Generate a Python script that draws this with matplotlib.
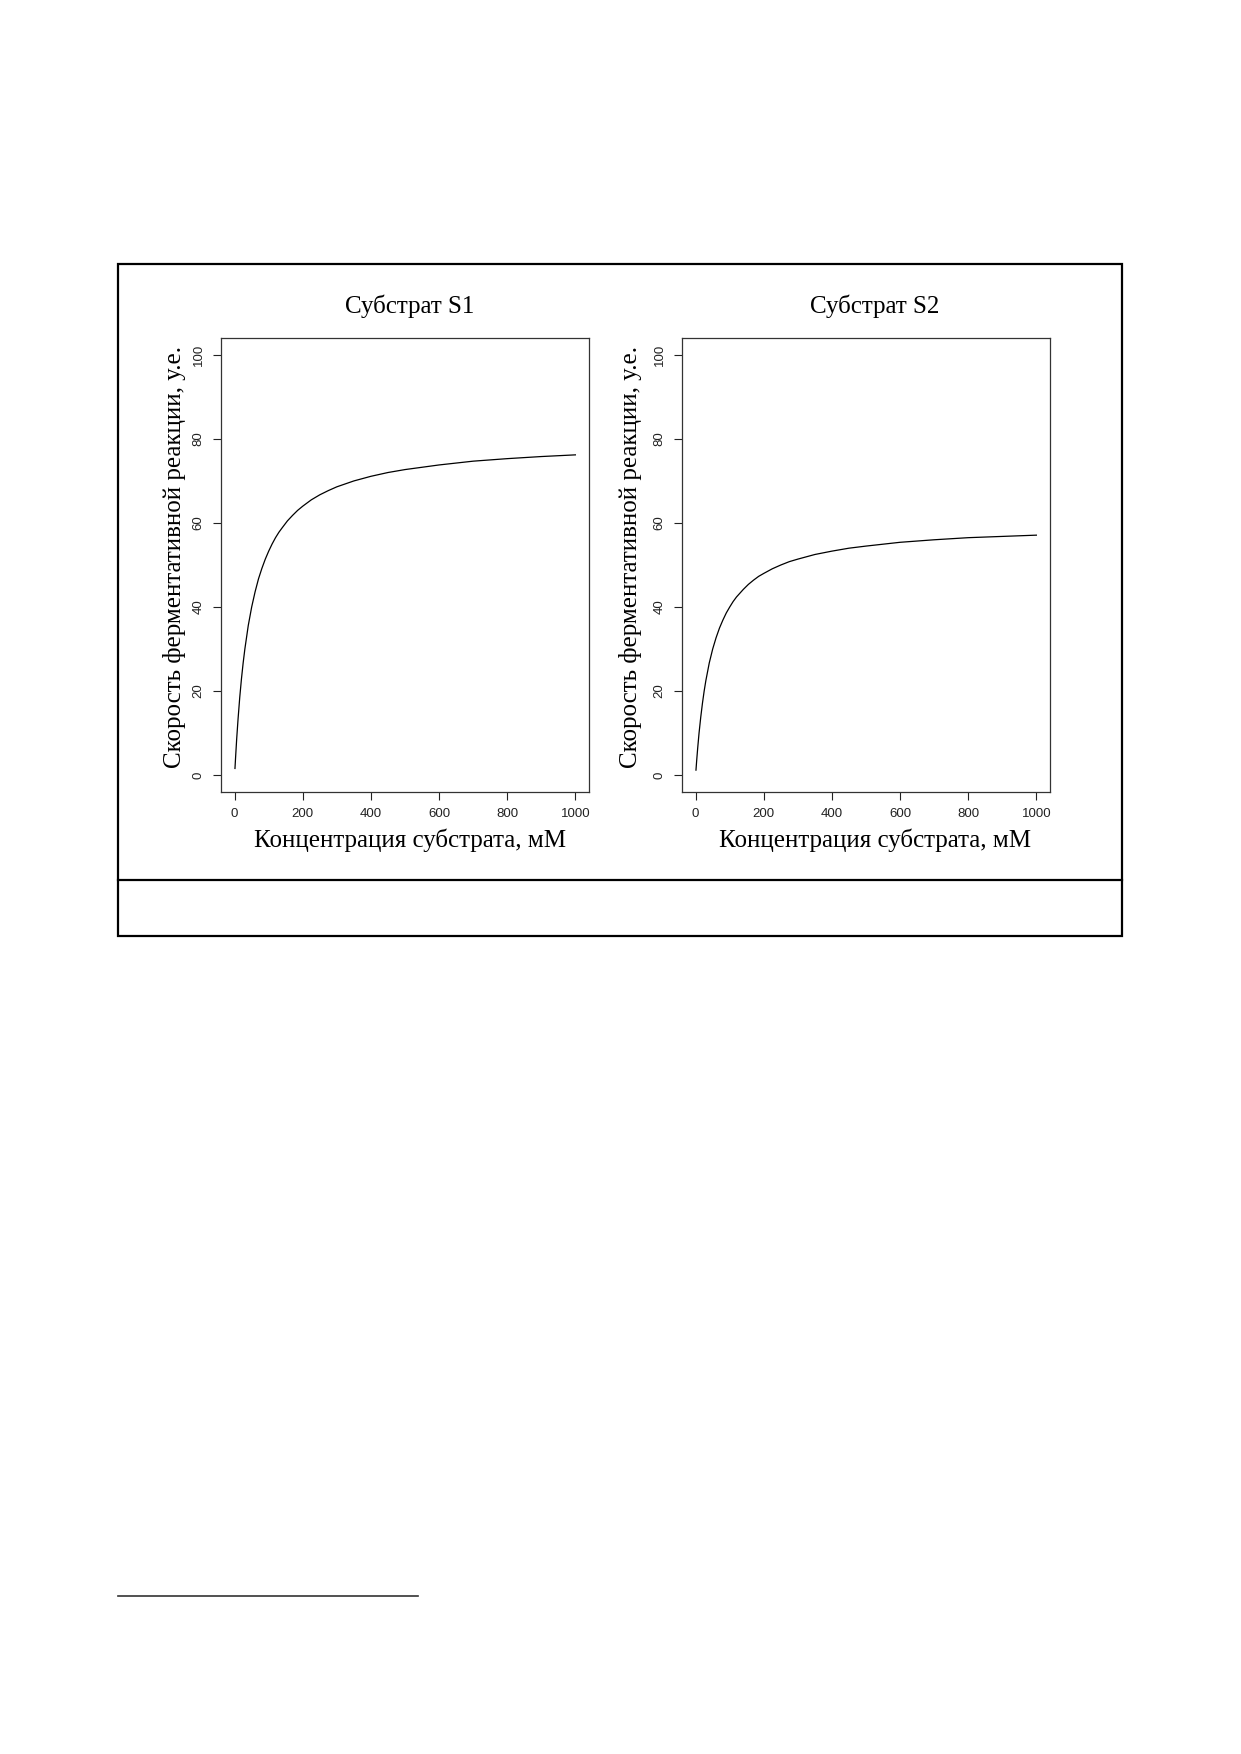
import numpy as np
import matplotlib.pyplot as plt
from matplotlib.lines import Line2D
from matplotlib.patches import Rectangle

# Значения (кривые насыщения)
conc = [1, 3, 6, 10, 15, 20, 25, 30, 40, 50, 60, 70, 80, 90, 100, 110, 120,
        130, 140, 155, 170, 185, 200, 225, 250, 275, 300, 350, 400, 450,
        500, 600, 700, 800, 900, 1000]
rate_s1 = [1.6, 4.5, 8.6, 13.3, 18.5, 22.9, 26.7, 30.0, 35.6, 40.0, 43.6,
           46.7, 49.2, 51.4, 53.3, 55.0, 56.5, 57.8, 58.9, 60.5, 61.8, 63.0,
           64.0, 65.5, 66.7, 67.7, 68.6, 70.0, 71.1, 72.0, 72.7, 73.8, 74.7,
           75.3, 75.8, 76.2]
rate_s2 = [1.2, 3.4, 6.4, 10.0, 13.8, 17.1, 20.0, 22.5, 26.7, 30.0, 32.7,
           35.0, 36.9, 38.6, 40.0, 41.3, 42.4, 43.3, 44.2, 45.4, 46.4, 47.3,
           48.0, 49.1, 50.0, 50.8, 51.4, 52.5, 53.3, 54.0, 54.5, 55.4, 56.0,
           56.5, 56.8, 57.1]

titles = ['Субстрат S1', 'Субстрат S2']
xlabel = 'Концентрация субстрата, мМ'
ylabel = 'Скорость ферментативной реакции, у.е.'
xticks = [0, 200, 400, 600, 800, 1000]
yticks = [0, 20, 40, 60, 80, 100]

W, H = 1241, 1754
fig = plt.figure(figsize=(W / 100, H / 100), dpi=100)

serif = 'Liberation Serif'
sans = 'Liberation Sans'


def fx(px):
    return px / W


def fy(py):
    return 1 - py / H


# Рамка вокруг рисунка
frame = Rectangle((fx(118), fy(936)), fx(1122) - fx(118), fy(264) - fy(936),
                  transform=fig.transFigure, fill=False, lw=1.6, color='black')
fig.patches.append(frame)
fig.lines.append(Line2D([fx(118), fx(1122)], [fy(880), fy(880)],
                        transform=fig.transFigure, lw=1.6, color='black'))
# сноска внизу страницы
fig.lines.append(Line2D([fx(118), fx(418)], [fy(1596), fy(1596)],
                        transform=fig.transFigure, lw=1.2, color='#333333'))

# (левый край осей, данные, x подписи оси y, сдвиг подписей по x)
panels = [(221, rate_s1, 175, 5), (682, rate_s2, 630, 9)]
for (left_px, rates, ylab_px, shift), title in zip(panels, titles):
    ax = fig.add_axes([fx(left_px), fy(792), 368 / W, 454 / H])
    ax.plot(conc, rates, color='black', lw=0.9)
    ax.set_xlim(-40, 1040)
    ax.set_ylim(-4, 104)
    ax.set_xticks(xticks)
    ax.set_yticks(yticks)
    ax.set_xticklabels([str(t) for t in xticks], fontfamily=sans, fontsize=9.5)
    ax.set_yticklabels([str(t) for t in yticks], fontfamily=sans, fontsize=9.5,
                       rotation=90, va='center')
    ax.tick_params(length=5.8, width=0.8, pad=6, colors='#222222')
    for sp in ax.spines.values():
        sp.set_color('#333333')
        sp.set_linewidth(0.9)
    cx = 0.5 + shift / 368
    ax.text(cx, 1 + (338 - 306) / 454, title, transform=ax.transAxes,
            ha='center', va='center', fontfamily=serif, fontsize=18)
    ax.text(cx, (792 - 840) / 454, xlabel, transform=ax.transAxes,
            ha='center', va='center', fontfamily=serif, fontsize=18)
    ax.text((ylab_px - left_px) / 368, 0.5 + 8 / 454, ylabel,
            transform=ax.transAxes, ha='center', va='center', rotation=90,
            fontfamily=serif, fontsize=18)

fig.savefig('out.png', dpi=100)
